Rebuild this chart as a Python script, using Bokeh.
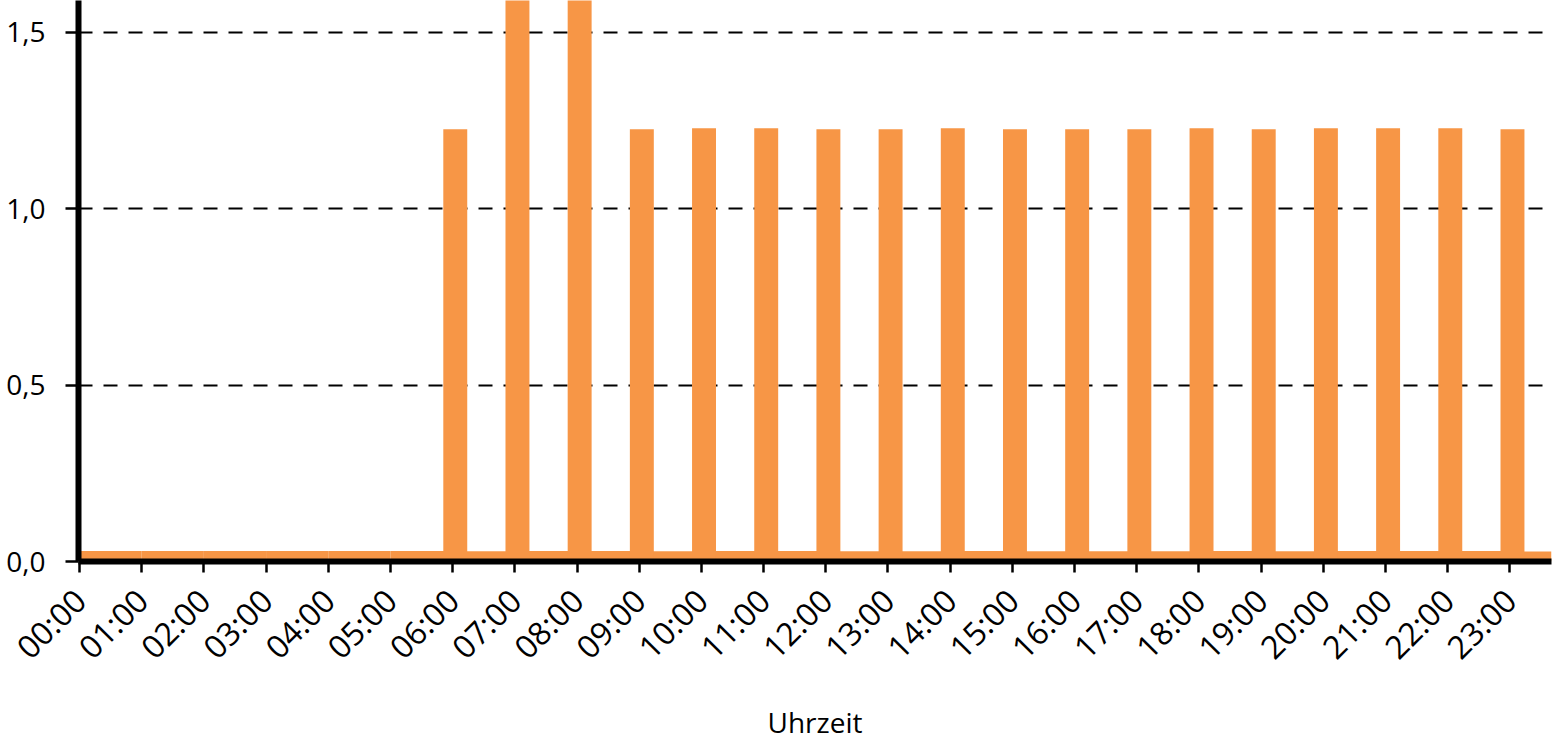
from bokeh.plotting import figure
from bokeh.models import Range1d, FixedTicker
from bokeh.embed import file_html
from bokeh.resources import INLINE
import math

# ---- data ----
hours = list(range(24))
hour_labels = ["%02d:00" % h for h in hours]
base_values = [0.030, 0.030, 0.030, 0.030, 0.030, 0.030, 0.029, 0.030,
               0.030, 0.029, 0.030, 0.030, 0.029, 0.029, 0.030, 0.029,
               0.029, 0.029, 0.030, 0.029, 0.030, 0.030, 0.030, 0.028]
spike_hours = list(range(6, 24))
spike_values = [1.225, 2.000, 2.000, 1.225, 1.228, 1.228, 1.225, 1.225, 1.228,
                1.225, 1.225, 1.225, 1.228, 1.225, 1.228, 1.228, 1.228, 1.225]
y_ticks = [0.0, 0.5, 1.0, 1.5]
y_labels = ["0,0", "0,5", "1,0", "1,5"]

X_START = -0.016
X_END = 23.67
ORANGE = "#F79646"
FONT = "Open Sans"

p = figure(width=1556, height=745, output_backend="svg", toolbar_location=None,
           x_range=Range1d(X_START, X_END), y_range=Range1d(0, 1.59),
           min_border_left=78, min_border_right=5, min_border_top=0,
           min_border_bottom=184)
p.outline_line_color = None
p.background_fill_color = "white"

# base level segments
b_left = hours
b_right = [min(h + 1, X_END) for h in hours]
p.quad(left=b_left, right=b_right, bottom=0, top=base_values,
       fill_color=ORANGE, line_color=None)

# hourly spikes
p.quad(left=[h - 0.15 for h in spike_hours], right=[h + 0.235 for h in spike_hours],
       bottom=0, top=spike_values, fill_color=ORANGE, line_color=None)

# grid
p.xgrid.visible = False
p.ygrid.ticker = FixedTicker(ticks=y_ticks)
p.ygrid.grid_line_color = "black"
p.ygrid.grid_line_dash = "14 11"
p.ygrid.grid_line_width = 2

# axes
for ax in (p.xaxis[0], p.yaxis[0]):
    ax.axis_line_width = 6
    ax.axis_line_color = "black"
    ax.major_tick_line_width = 2.5
    ax.major_tick_line_color = "black"
    ax.major_tick_in = 0
    ax.minor_tick_line_color = None
    ax.major_label_text_font = FONT
    ax.major_label_text_color = "black"

p.xaxis.ticker = FixedTicker(ticks=hours)
p.xaxis.major_label_overrides = {h: lab for h, lab in zip(hours, hour_labels)}
p.xaxis.major_label_orientation = math.pi / 4
p.xaxis.major_label_text_font_size = "32px"
p.xaxis.major_tick_out = 11
p.xaxis.major_label_standoff = 22
p.xaxis.axis_label = "Uhrzeit"
p.xaxis.axis_label_text_font = FONT
p.xaxis.axis_label_text_font_size = "28px"
p.xaxis.axis_label_text_font_style = "normal"
p.xaxis.axis_label_text_color = "black"
p.xaxis.axis_label_standoff = 17

p.yaxis.ticker = FixedTicker(ticks=y_ticks)
p.yaxis.major_label_overrides = {t: lab for t, lab in zip(y_ticks, y_labels)}
p.yaxis.major_label_text_font_size = "28px"
p.yaxis.major_tick_out = 13
p.yaxis.major_label_standoff = 20

open("out.html", "w").write(file_html(p, INLINE))
